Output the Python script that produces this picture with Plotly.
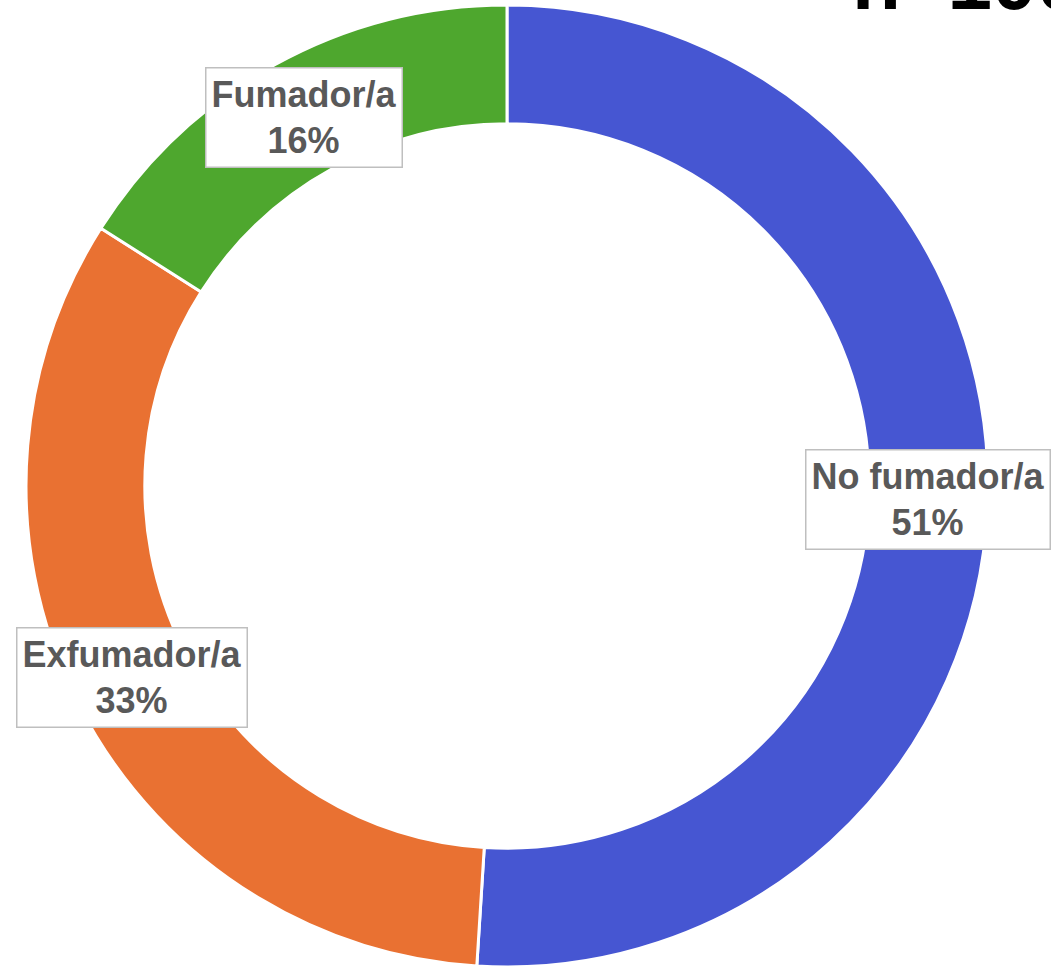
import math
import plotly.graph_objects as go

# ---- data ----
categories = ["No fumador/a", "Exfumador/a", "Fumador/a"]
values = [51, 33, 16]
colors = ["#4656D2", "#E97132", "#4EA72E"]
sample_label = "n=100"

# ---- layout geometry (pixels) ----
W, H = 1051, 970
cx, cy, R = 507, 486, 481
label_r = 421

fig = go.Figure(
    go.Pie(
        labels=categories,
        values=values,
        sort=False,
        direction="clockwise",
        rotation=0,
        hole=0.753,
        marker=dict(colors=colors, line=dict(color="white", width=3)),
        textinfo="none",
        hoverinfo="label+percent",
        showlegend=False,
        domain=dict(x=[(cx - R) / W, (cx + R) / W],
                    y=[(H - cy - R) / H, (H - cy + R) / H]),
    )
)

total = sum(values)
annotations = []
cum = 0
for cat, v in zip(categories, values):
    mid = (cum + v / 2) / total * 2 * math.pi
    cum += v
    px = cx + label_r * math.sin(mid)
    py = cy - label_r * math.cos(mid)
    pct = round(v / total * 100)
    annotations.append(dict(
        x=px / W, y=1 - py / H, xref="paper", yref="paper",
        xanchor="center", yanchor="middle",
        text=f"<b>{cat}</b><br><b>{pct}%</b>",
        showarrow=False,
        font=dict(family="Liberation Sans, Arial, sans-serif", size=36, color="#595959"),
        bgcolor="white", bordercolor="#BFBFBF", borderwidth=1.5, borderpad=5,
    ))

annotations.append(dict(
    x=850 / W, y=1 - 28 / H, xref="paper", yref="paper",
    xanchor="left", yanchor="bottom",
    text=f"<b>{sample_label}</b>", showarrow=False,
    font=dict(family="Liberation Sans, Arial, sans-serif", size=80, color="black"),
))

fig.update_layout(
    width=W, height=H,
    margin=dict(l=0, r=0, t=0, b=0),
    paper_bgcolor="white", plot_bgcolor="white",
    annotations=annotations,
)

fig.write_html("out.html", config={"displayModeBar": False},
               post_script="document.body.style.margin='0px';")
